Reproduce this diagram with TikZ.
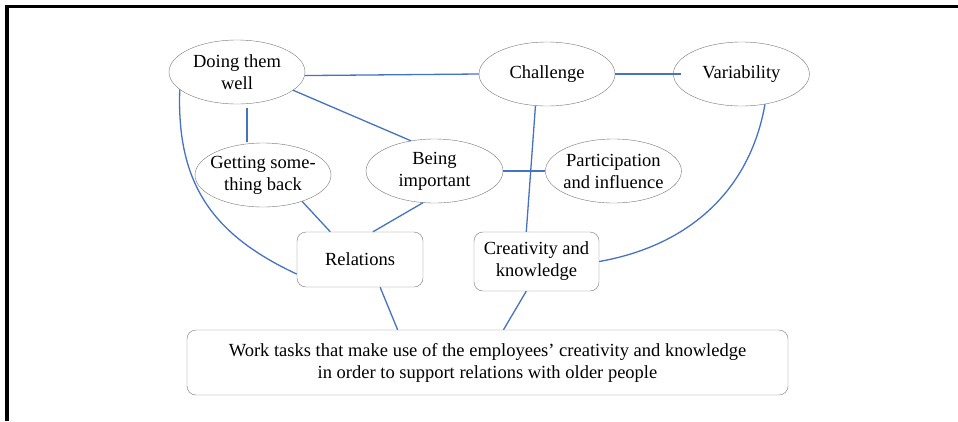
\documentclass[tikz,border=0pt]{standalone}
\usepackage{fontspec}
\setmainfont{Liberation Serif}
\usepackage{xcolor}
\usetikzlibrary{arrows.meta}
\usetikzlibrary{positioning}
\usetikzlibrary{shapes.geometric}
\definecolor{linkblue}{HTML}{4472C4}
\definecolor{rimgray}{HTML}{767676}

\begin{document}
\begin{tikzpicture}[
		x=1pt, y=-1pt,
		font=\fontsize{18.5}{22}\selectfont,
		theme/.style={ellipse, draw=rimgray, thin, minimum width=136pt, minimum height=64pt, inner xsep=-16pt, inner ysep=0pt, align=center},
		block/.style={draw=rimgray, thin, rounded corners=9pt, inner sep=0pt, align=center},
		link/.style={draw=linkblue, line width=1.3pt},
		boldlink/.style={draw=linkblue, line width=2.4pt},
	]
		\useasboundingbox (0,0) rectangle (958,421);
		% frame
		\draw[line width=3.6pt] (7,421) -- (7,6.5) -- (958,6.5);
		
		\node[theme] (doing) at (237,72) {Doing them\\well};
		\node[theme] (challenge) at (547,74) {Challenge};
		\node[theme, right=58pt of challenge] (variability) {Variability};
		\node[theme] (getting) at (263,175) {Getting some-\\thing back};
		\node[theme, minimum width=137pt] (important) at (434.5,171) {Being\\important};
		\node[theme, right=42pt of important] (participation) {Participation\\and influence};
		\node[block, minimum width=126pt, minimum height=55pt] (relations) at (360,259.5) {Relations};
		\node[block, minimum width=125pt, minimum height=59pt] (creativity) at (536.5,261.5) {Creativity and\\knowledge};
		\node[block, minimum width=601pt, minimum height=65pt] (work) at (487.5,362.5) {Work tasks that make use of the employees’ creativity and knowledge\\in order to support relations with older people};
		
		\draw[link] (doing.-3) -- (challenge.west);
		\draw[link, shorten >=-8pt] (challenge.east) -- (variability.west);
		\draw[boldlink, shorten <=4pt, shorten >=1pt] (doing.south -| 247,0) -- (getting.north -| 247,0);
		\draw[link] (doing.-18) -- (important.128);
		\draw[boldlink] (important.east) -- (participation.west);
		\draw[link] (challenge.-110) -- (creativity.109);
		\draw[link] (getting.-34) -- (relations.137);
		\draw[link] (important.-110) -- (relations.65);
		\draw[link] (doing.197) to[out=-92, in=155, looseness=1.1] (relations.193);
		\draw[link] (variability.-52) to[out=-100, in=10] (creativity.east);
		\draw[link] (relations.-54) -- (work.160);
		\draw[link] (creativity.-109) -- (work.64);
	\end{tikzpicture}
\end{document}
